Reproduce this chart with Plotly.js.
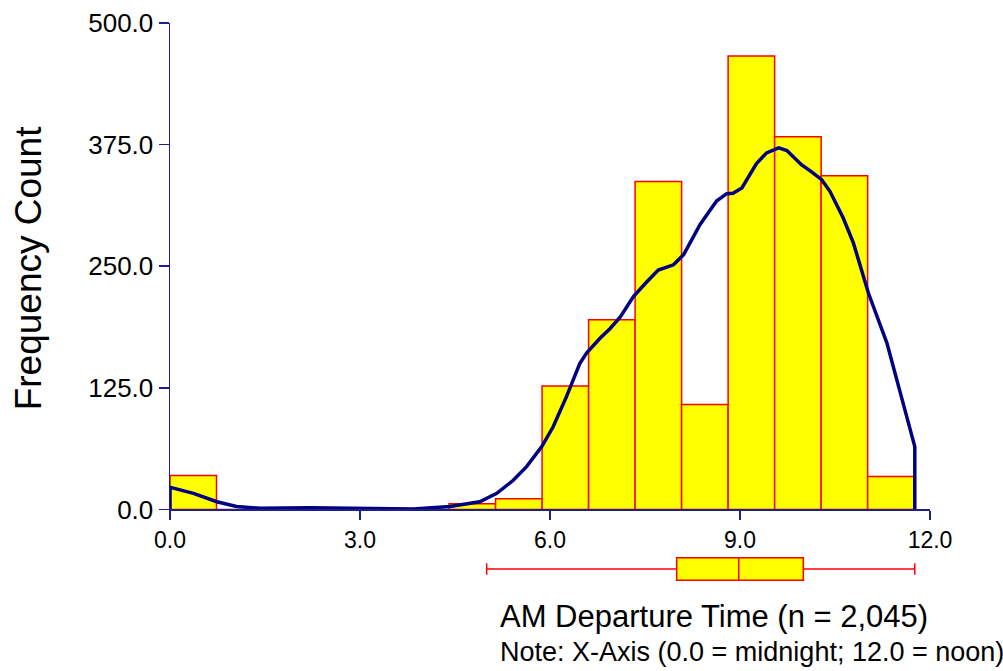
<!DOCTYPE html>
<html>
<head>
<meta charset="utf-8">
<script src="https://cdn.plot.ly/plotly-3.0.1.min.js"></script>
<style>html,body{margin:0;padding:0;background:#fff;}#chart{width:1003px;height:671px;}</style>
</head>
<body>
<div id="chart"></div>
<script>
// Histogram bins (AM departure time, hours after midnight)
const binStart = 0;
const binWidth = 0.734375;
const binCounts = [35, 0, 0, 0, 0, 0, 6, 11, 127, 195, 337, 108, 466, 383, 343, 34];

// Density curve (scaled to counts)
const kdeX = [0, 0, 0.37, 0.74, 1.05, 1.42, 2.21, 3.0, 3.84, 4.42, 4.89, 5.16, 5.42, 5.63, 5.87, 6.05, 6.26, 6.47, 6.58, 6.79, 6.95, 7.11, 7.32, 7.53, 7.71, 7.95, 8.11, 8.37, 8.63, 8.79, 8.89, 9.03, 9.26, 9.42, 9.61, 9.74, 9.97, 10.13, 10.29, 10.42, 10.63, 10.79, 11.03, 11.32, 11.53, 11.76, 11.76];
const kdeY = [0, 22.9, 16.6, 8, 3, 1.2, 1.9, 1.2, 0.5, 3, 8, 16.6, 30, 44, 64.6, 85, 116, 150, 161, 176, 186, 198, 219, 234, 246, 251.5, 262, 293, 317, 324.6, 325, 330.5, 355.5, 366.5, 371.6, 369, 354.4, 347, 339, 327, 299.6, 274, 222, 171, 119.5, 64.6, 0];

// Box plot summary
const boxLower = [5.0];
const boxQ1 = [8.0];
const boxMedian = [8.98];
const boxQ3 = [10.0];
const boxUpper = [11.76];

// Tick values
const xTicks = [0, 3, 6, 9, 12];
const yTicks = [0, 125, 250, 375, 500];

const binCenters = binCounts.map((_, i) => binStart + binWidth * (i + 0.5));

const navy = '#1e1e8c';
const font = 'Arial, "Liberation Sans", sans-serif';

const traces = [
  {
    type: 'bar',
    x: binCenters,
    y: binCounts,
    width: binCounts.map(() => binWidth),
    marker: {color: '#ffff00', line: {color: '#ff0000', width: 1.5}},
    xaxis: 'x', yaxis: 'y',
    hoverinfo: 'x+y',
    showlegend: false
  },
  {
    type: 'scatter',
    mode: 'lines',
    x: kdeX,
    y: kdeY,
    line: {color: '#000080', width: 3.5},
    xaxis: 'x', yaxis: 'y',
    cliponaxis: false,
    showlegend: false
  },
  {
    type: 'box',
    orientation: 'h',
    y: [0],
    q1: boxQ1,
    median: boxMedian,
    q3: boxQ3,
    lowerfence: boxLower,
    upperfence: boxUpper,
    width: 1.07,
    whiskerwidth: 0.52,
    fillcolor: '#ffff00',
    line: {color: '#ff0000', width: 1.5},
    boxpoints: false,
    xaxis: 'x', yaxis: 'y2',
    showlegend: false
  }
];

const layout = {
  width: 1003,
  height: 671,
  margin: {l: 170, r: 73, t: 23, b: 81},
  paper_bgcolor: '#ffffff',
  plot_bgcolor: '#ffffff',
  bargap: 0,
  showlegend: false,
  font: {family: font, color: '#000000'},
  xaxis: {
    range: [0, 12],
    tickvals: xTicks,
    tickformat: '.1f',
    ticks: 'outside',
    ticklen: 9,
    tickwidth: 1.5,
    tickcolor: navy,
    showline: true,
    linecolor: navy,
    linewidth: 1.5,
    showgrid: false,
    zeroline: false,
    anchor: 'y',
    tickfont: {family: font, size: 23, color: '#000000'}
  },
  yaxis: {
    domain: [0.142, 1],
    range: [0, 500],
    tickvals: yTicks,
    tickformat: '.1f',
    ticks: 'outside',
    ticklen: 10,
    tickwidth: 1.5,
    tickcolor: navy,
    showline: true,
    linecolor: navy,
    linewidth: 1.5,
    showgrid: false,
    zeroline: false,
    anchor: 'x',
    tickfont: {family: font, size: 26, color: '#000000'}
  },
  yaxis2: {
    domain: [0, 0.0741],
    range: [-1, 1],
    visible: false,
    anchor: 'x'
  },
  annotations: [
    {
      text: 'Frequency Count',
      textangle: -90,
      xref: 'paper', yref: 'paper',
      x: -0.185, y: 0.568,
      xanchor: 'center', yanchor: 'middle',
      showarrow: false,
      font: {family: font, size: 37, color: '#000000'}
    },
    {
      text: 'AM Departure Time (n = 2,045)',
      xref: 'paper', yref: 'paper',
      x: 0.432, y: -0.0476,
      xanchor: 'left', yanchor: 'middle',
      showarrow: false,
      font: {family: font, size: 31, color: '#000000'}
    },
    {
      text: 'Note: X-Axis (0.0 = midnight; 12.0 = noon)',
      xref: 'paper', yref: 'paper',
      x: 0.432, y: -0.109,
      xanchor: 'left', yanchor: 'middle',
      showarrow: false,
      font: {family: font, size: 27, color: '#000000'}
    }
  ]
};

Plotly.newPlot('chart', traces, layout, {displayModeBar: false, staticPlot: true});
</script>
</body>
</html>
